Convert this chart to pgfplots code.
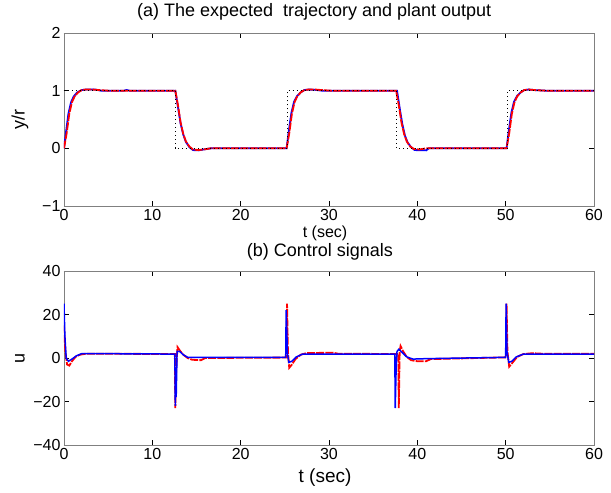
\documentclass[border=0pt]{standalone}
\usepackage{fontspec}
\setmainfont{Liberation Sans}
\usepackage{pgfplots}
\pgfplotsset{compat=1.18}

\pgfplotsset{
  matlab/.style={
    scale only axis,
    width=530pt,
    xmin=0, xmax=60,
    xtick={0,10,...,60},
    tick align=inside,
    major tick length=5pt,
    axis line style={black!50, line width=0.8pt},
    tick style={black, line width=0.6pt},
    ticklabel style={font=\fontsize{16}{16}\selectfont},
    /pgf/number format/assume math mode=true,
    clip=true,
  },
}

\begin{document}
\begin{tikzpicture}
\useasboundingbox (-64pt,-287pt) rectangle (547pt,206pt);

% (a) output
\begin{axis}[matlab,
    at={(0pt,0pt)}, anchor=south west,
    height=173pt,
    ymin=-1, ymax=2,
    ytick={-1,0,1,2},
    yticklabels={−1,0,1,2},
    title={(a) The expected\ \ trajectory and plant output},
    title style={at={(axis description cs:0.472,1)}, anchor=base, yshift=11pt,
      font=\fontsize{18}{18}\selectfont},
    xlabel={t (sec)},
    xlabel style={at={(axis description cs:0.4925,0)}, anchor=center, yshift=-27pt,
      font=\fontsize{16}{16}\selectfont},
    ylabel={y/r},
    ylabel style={at={(axis description cs:-0.083,0.5)}, anchor=center,
      font=\fontsize{18}{18}\selectfont},
]
\addplot[blue, line width=1.8pt] coordinates {
  (0,0) (0.2,0.25) (0.5,0.6) (0.8,0.8) (1.1,0.9) (1.5,0.97) (2,1.01) (2.5,1.02)
  (3.5,1.02) (4.2,1.0) (6.8,1.0) (7.1,1.012) (7.4,1.0) (12.6,1)
  (12.9,0.72) (13.2,0.43) (13.5,0.24) (13.8,0.11) (14.2,0.02) (14.6,-0.03)
  (15.2,-0.035) (15.8,-0.02) (16.6,0) (25.2,0)
  (25.45,0.3) (25.75,0.62) (26.05,0.81) (26.4,0.91) (26.8,0.97) (27.2,1.01)
  (27.7,1.02) (28.4,1.015) (29.2,1.0) (37.7,1)
  (38.0,0.7) (38.3,0.42) (38.6,0.22) (38.9,0.1) (39.3,0.02) (39.7,-0.03)
  (41,-0.035) (41.3,0) (50.1,0)
  (50.35,0.3) (50.65,0.62) (50.95,0.81) (51.3,0.91) (51.7,0.97) (52.1,1.01)
  (52.6,1.02) (53.3,1.01) (54.5,1) (60,1)
};
\addplot[red, line width=1.8pt, dash pattern=on 8pt off 1.2pt] coordinates {
  (0,0) (0.3,0.26) (0.6,0.6) (0.9,0.8) (1.2,0.9) (1.6,0.97) (2.0,1.01) (2.5,1.02)
  (3.2,1.02) (4,1.01) (5,1) (12.6,1)
  (12.9,0.75) (13.2,0.45) (13.5,0.25) (13.8,0.12) (14.2,0.03) (14.6,-0.02)
  (15.2,-0.03) (15.8,-0.02) (16.6,0) (25.2,0)
  (25.5,0.26) (25.8,0.6) (26.1,0.8) (26.4,0.9) (26.8,0.97) (27.2,1.01)
  (27.7,1.02) (28.4,1.02) (29.2,1.01) (30.2,1) (37.6,1)
  (37.9,0.75) (38.2,0.45) (38.5,0.25) (38.8,0.12) (39.2,0.03) (39.6,-0.01)
  (40.2,-0.02) (41,0) (50.1,0)
  (50.4,0.26) (50.7,0.6) (51,0.8) (51.3,0.9) (51.7,0.97) (52.1,1.01)
  (52.6,1.02) (53.3,1.01) (54.5,1) (60,1)
};
\addplot[black, line width=1pt, dash pattern=on 1pt off 3pt] coordinates {
  (0,1) (12.6,1) (12.6,0) (25.3,0) (25.3,1) (37.6,1) (37.6,0) (50.2,0) (50.2,1) (60,1)
};
\end{axis}

% (b) control
\begin{axis}[matlab,
    at={(0pt,-65pt)}, anchor=north west,
    height=174pt,
    ymin=-40, ymax=40,
    ytick={-40,-20,0,20,40},
    yticklabels={−40,−20,0,20,40},
    title={(b) Control signals},
    title style={at={(axis description cs:0.483,1)}, anchor=base, yshift=9pt,
      font=\fontsize{18}{18}\selectfont},
    xlabel={t (sec)},
    xlabel style={at={(axis description cs:0.4925,0)}, anchor=center, yshift=-33pt,
      font=\fontsize{19}{19}\selectfont},
    ylabel={u},
    ylabel style={at={(axis description cs:-0.083,0.5)}, anchor=center,
      font=\fontsize{18}{18}\selectfont},
]
\addplot[red, line width=1.8pt, dash pattern=on 8pt off 1.2pt] coordinates {
  (0,15) (0.15,3) (0.35,-3) (0.6,-3.5) (0.9,-1.5) (1.3,0.5) (1.8,1.5) (2.5,2)
  (4,2) (12.55,1.8) (12.6,-23) (12.7,-5) (12.85,5) (13.1,3.5) (13.5,1.5)
  (14,0) (14.5,-0.8) (15.5,-1) (16,0) (25.2,0.2) (25.25,25) (25.35,3)
  (25.5,-4.5) (25.8,-3) (26.2,-0.5) (26.8,1.5) (27.5,2.3) (30.5,2.4) (31,2)
  (37.85,1.8) (37.9,-23) (38.0,3) (38.1,5.5) (38.4,3) (38.8,0.5) (39.3,-1)
  (40,-1.5) (41,-1.5) (41.5,-0.5) (50.05,0.3) (50.1,25) (50.2,3) (50.4,-4)
  (50.8,-2) (51.3,0.5) (52,1.8) (53,2.2) (54,2) (60,2)
};
\addplot[blue, line width=1.5pt] coordinates {
  (0,25) (0.1,10) (0.25,0) (0.5,-1.5) (0.9,-0.5) (1.4,1) (2,2) (4.5,2)
  (12.55,1.8) (12.6,-22) (12.65,-10) (12.7,-18) (12.8,3) (13.1,3) (13.5,1.5)
  (14,0.3) (25.1,0.3) (25.15,22) (25.3,2) (25.45,-2) (25.8,-1.5) (26.3,0.5)
  (27,1.8) (37.45,1.8) (37.5,-23) (37.6,-5) (37.7,3) (37.9,4) (38.3,2.5)
  (38.8,0.5) (39.5,-0.5) (41,-0.3) (50.0,0.3) (50.05,25) (50.15,3)
  (50.35,-2) (50.7,-1.5) (51.2,0.5) (52,1.8) (60,1.8)
};
\end{axis}
\end{tikzpicture}
\end{document}
